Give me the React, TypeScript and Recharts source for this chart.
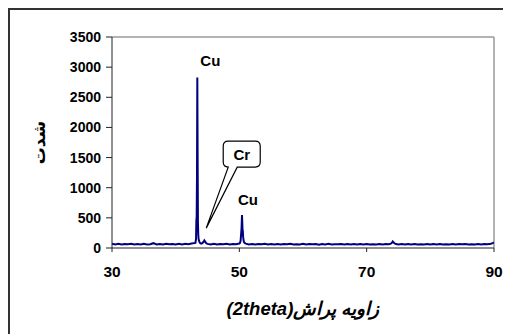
import React from "react";
import {
  LineChart,
  Line,
  XAxis,
  YAxis,
  ReferenceLine,
  ReferenceDot,
  Label,
} from "recharts";

// XRD pattern: [2theta, counts]
const segA: [number, number][] = [
  [30, 72], [30.5, 60], [31, 70], [31.5, 58], [32, 68], [32.5, 62], [33, 71], [33.5, 57],
  [34, 66], [34.5, 60], [35, 69], [35.5, 58], [36, 64], [36.5, 80], [37, 60], [37.5, 68],
  [38, 57], [38.5, 70], [39, 61], [39.5, 67], [40, 58], [40.5, 72], [41, 60], [41.5, 69],
  [42, 62], [42.5, 74],
];
const cuPeak1: [number, number][] = [
  [43.1, 85], [43.2, 150], [43.25, 450], [43.3, 520], [43.35, 1200], [43.4, 2830],
  [43.45, 1500], [43.5, 420], [43.55, 220], [43.6, 150], [43.7, 110], [43.8, 85], [44.0, 72],
];
const crBump: [number, number][] = [
  [44.2, 80], [44.4, 105], [44.5, 125], [44.6, 110], [44.8, 78], [45.0, 68],
];
const segB: [number, number][] = [
  [45.5, 60], [46, 70], [46.5, 58], [47, 67], [47.5, 61], [48, 69], [48.5, 57], [49, 66],
  [49.5, 62], [49.8, 70],
];
const cuPeak2: [number, number][] = [
  [50.0, 75], [50.1, 85], [50.2, 120], [50.3, 260], [50.35, 330], [50.42, 545],
  [50.5, 310], [50.55, 280], [50.6, 180], [50.7, 110], [50.8, 85], [51.0, 72],
];
const segC: [number, number][] = [
  [51.5, 60], [52, 68], [52.5, 58], [53, 66], [53.5, 61], [54, 70], [54.5, 57], [55, 65],
  [55.5, 60], [56, 68], [56.5, 58], [57, 66], [57.5, 62], [58, 69], [58.5, 57], [59, 64],
  [59.5, 60], [60, 70], [60.5, 58], [61, 66], [61.5, 61], [62, 67], [62.5, 56], [63, 65],
  [63.5, 60], [64, 69], [64.5, 58], [65, 64], [65.5, 61], [66, 68], [66.5, 57], [67, 65],
  [67.5, 59], [68, 67], [68.5, 58], [69, 66], [69.5, 60], [70, 68], [70.5, 57], [71, 64],
  [71.5, 60], [72, 67], [72.5, 58], [73, 65], [73.5, 62],
];
const peak74: [number, number][] = [
  [73.8, 72], [74.0, 90], [74.1, 108], [74.2, 95], [74.4, 75], [74.6, 65],
];
const segD: [number, number][] = [
  [75, 60], [75.5, 66], [76, 58], [76.5, 65], [77, 60], [77.5, 67], [78, 57], [78.5, 64],
  [79, 59], [79.5, 66], [80, 58], [80.5, 65], [81, 60], [81.5, 67], [82, 57], [82.5, 64],
  [83, 60], [83.5, 66], [84, 58], [84.5, 65], [85, 61], [85.5, 67], [86, 58], [86.5, 64],
  [87, 60], [87.5, 66], [88, 59], [88.5, 65], [89, 62], [89.5, 70], [89.8, 80], [90, 92],
];

const xTicks = [30, 50, 70, 90];
const yTicks = [0, 500, 1000, 1500, 2000, 2500, 3000, 3500];
const xTitle = "زاویه پراش(2theta)";
const yTitle = "شدت";

// annotations: [2theta, counts, text]
const cuLabels: [number, number, string][] = [
  [43.4, 2830, "Cu"],
  [50.42, 545, "Cu"],
];
const crCallout: [number, number, string] = [44.8, 330, "Cr"];

const data = [...segA, ...cuPeak1, ...crBump, ...segB, ...cuPeak2, ...segC, ...peak74, ...segD].map(
  ([t, c]) => ({ t, c })
);

const FONT = "Arial, 'Liberation Sans', 'DejaVu Sans', sans-serif";

export default function App() {
  return (
    <div
      style={{
        width: 503,
        height: 326,
        boxSizing: "border-box",
        borderTop: "2px solid #333",
        borderLeft: "2px solid #333",
        overflow: "hidden",
        background: "#fff",
      }}
    >
      <LineChart
        width={501}
        height={324}
        data={data}
        margin={{ top: 27, right: 17, bottom: 56, left: 0 }}
      >
        <XAxis
          dataKey="t"
          type="number"
          domain={[30, 90]}
          ticks={xTicks}
          height={30}
          tickSize={4}
          tickMargin={14}
          stroke="#222"
          tick={{ fill: "#000", fontSize: 15.5, fontWeight: "bold", fontFamily: FONT }}
          allowDataOverflow
        >
          <Label
            content={(p: any) => {
              const vb = p.viewBox || {};
              const cx = vb.x + vb.width / 2;
              return (
                <text
                  x={cx}
                  y={vb.y + 67}
                  textAnchor="middle"
                  direction="rtl"
                  fontFamily={FONT}
                  fontWeight="bold"
                  fontStyle="italic"
                  fontSize={18.5}
                  fill="#000"
                >
                  {xTitle}
                </text>
              );
            }}
          />
        </XAxis>
        <YAxis
          type="number"
          domain={[0, 3500]}
          ticks={yTicks}
          width={102}
          tickSize={6}
          tickMargin={5}
          stroke="#222"
          tick={{ fill: "#000", fontSize: 14, fontWeight: "bold", fontFamily: FONT }}
        >
          <Label
            content={(p: any) => {
              const vb = p.viewBox || {};
              const cx = 29;
              const cy = vb.y + vb.height / 2;
              return (
                <text
                  x={cx}
                  y={cy}
                  transform={`rotate(-90 ${cx} ${cy})`}
                  textAnchor="middle"
                  dominantBaseline="central"
                  fontFamily={FONT}
                  fontWeight="bold"
                  fontSize={17}
                  fill="#000"
                >
                  {yTitle}
                </text>
              );
            }}
          />
        </YAxis>
        <ReferenceLine y={3500} stroke="#999" strokeWidth={1.5} />
        <ReferenceLine x={90} stroke="#999" strokeWidth={1.5} />
        <Line
          type="linear"
          dataKey="c"
          stroke="#000080"
          strokeWidth={2}
          dot={false}
          isAnimationActive={false}
        />
        {cuLabels.map(([t, c, s], i) => (
          <ReferenceDot
            key={i}
            x={t}
            y={c}
            r={0}
            shape={(p: any) => (
              <text
                x={p.cx + (i === 0 ? 13 : 6)}
                y={p.cy - (i === 0 ? 17 : 16)}
                textAnchor="middle"
                dominantBaseline="central"
                fontFamily={FONT}
                fontWeight="bold"
                fontSize={15}
                fill="#000"
              >
                {s}
              </text>
            )}
          />
        ))}
        <ReferenceDot
          x={crCallout[0]}
          y={crCallout[1]}
          r={0}
          shape={(p: any) => {
            const x = p.cx;
            const y = p.cy;
            const l = x + 17, r = x + 54, t = y - 87, b = y - 61, rr = 5;
            const d = [
              `M ${l + rr} ${t}`,
              `L ${r - rr} ${t}`,
              `Q ${r} ${t} ${r} ${t + rr}`,
              `L ${r} ${b - rr}`,
              `Q ${r} ${b} ${r - rr} ${b}`,
              `L ${x + 31} ${b}`,
              `L ${x} ${y}`,
              `L ${x + 22} ${b}`,
              `L ${l + rr} ${b}`,
              `Q ${l} ${b} ${l} ${b - rr}`,
              `L ${l} ${t + rr}`,
              `Q ${l} ${t} ${l + rr} ${t}`,
              "Z",
            ].join(" ");
            return (
              <g>
                <path d={d} fill="#fff" stroke="#000" strokeWidth={1.2} />
                <text
                  x={(l + r) / 2}
                  y={(t + b) / 2}
                  textAnchor="middle"
                  dominantBaseline="central"
                  fontFamily={FONT}
                  fontWeight="bold"
                  fontSize={15}
                  fill="#000"
                >
                  {crCallout[2]}
                </text>
              </g>
            );
          }}
        />
      </LineChart>
    </div>
  );
}
